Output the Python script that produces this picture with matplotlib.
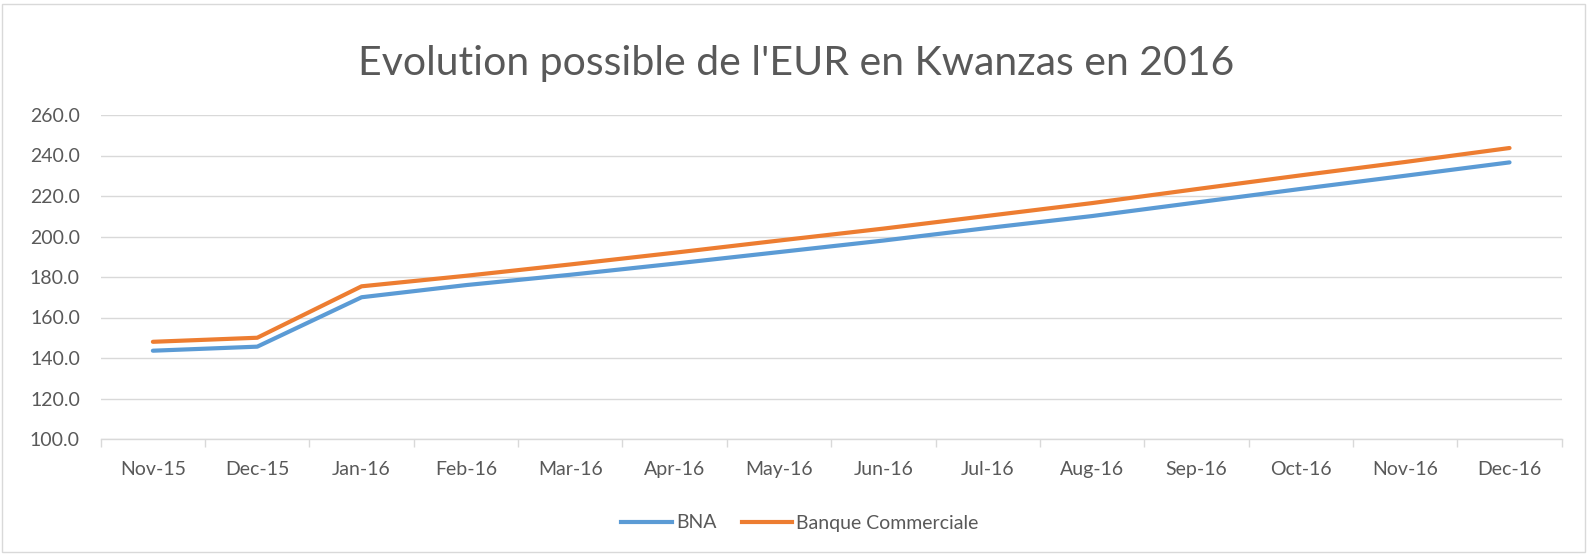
import matplotlib
matplotlib.use("Agg")
import matplotlib.pyplot as plt
from matplotlib.patches import Rectangle
from matplotlib.lines import Line2D
import numpy as np

categories = ["Nov-15", "Dec-15", "Jan-16", "Feb-16", "Mar-16", "Apr-16", "May-16",
              "Jun-16", "Jul-16", "Aug-16", "Sep-16", "Oct-16", "Nov-16", "Dec-16"]
bna = [143.6, 145.6, 170.0, 176.0, 181.1, 186.6, 192.3, 198.0, 204.2, 210.1, 216.8, 223.5, 230.0, 236.6]
banque_commerciale = [148.0, 150.0, 175.4, 180.6, 186.2, 192.0, 198.0, 203.9, 210.2, 216.5, 223.4, 230.2, 236.8, 243.7]
yticks = [100, 120, 140, 160, 180, 200, 220, 240, 260]
title = "Evolution possible de l'EUR en Kwanzas en 2016"

plt.rcParams['font.family'] = ['Lato', 'DejaVu Sans']

W, H = 1589, 554
fig = plt.figure(figsize=(W / 100, H / 100), dpi=100)
fig.patch.set_facecolor("white")

ax = fig.add_axes([100.7 / W, 115 / H, (1561.7 - 100.7) / W, (439 - 115) / H])
x = np.arange(len(categories))
ax.plot(x, bna, color="#5B9BD5", lw=3.0, solid_capstyle="round", solid_joinstyle="round", label="BNA")
ax.plot(x, banque_commerciale, color="#ED7D31", lw=3.0, solid_capstyle="round", solid_joinstyle="round",
        label="Banque Commerciale")

ax.set_xlim(-0.5, len(categories) - 0.5)
ax.set_ylim(100, 260)
ax.set_yticks(yticks)
ax.set_yticklabels([f"{v:.1f}" for v in yticks], color="#595959", fontsize=14)
ax.set_xticks(x)
ax.set_xticklabels(categories, color="#595959", fontsize=14)
ax.set_xticks(np.arange(-0.5, len(categories)), minor=True)
ax.tick_params(axis="x", which="major", length=0, pad=16)
ax.tick_params(axis="x", which="minor", length=6, color="#D9D9D9", width=1)
ax.tick_params(axis="y", length=0, pad=15)
ax.grid(axis="y", color="#D9D9D9", lw=1)
ax.set_axisbelow(True)
for s in ["top", "right", "left"]:
    ax.spines[s].set_visible(False)
ax.spines["bottom"].set_color("#D9D9D9")
ax.spines["bottom"].set_linewidth(1)

fig.text(796 / W, 1 - 64 / H, title, ha="center", va="center", fontsize=29.5, color="#595959",
         fontweight="normal")

handles = [Line2D([0], [0], color="#5B9BD5", lw=3.0), Line2D([0], [0], color="#ED7D31", lw=3.0)]
fig.legend(handles, ["BNA", "Banque Commerciale"], loc="center", bbox_to_anchor=(800 / W, 31 / H),
           ncol=2, frameon=False, fontsize=14, labelcolor="#595959", handlelength=2.6,
           handletextpad=0.2, columnspacing=1.3)

fig.patches.append(Rectangle((2 / W, 2 / H), 1 - 6 / W, 1 - 6 / H, transform=fig.transFigure,
                             fill=False, edgecolor="#D9D9D9", lw=1))

fig.savefig("out.png", dpi=100, facecolor="white")
